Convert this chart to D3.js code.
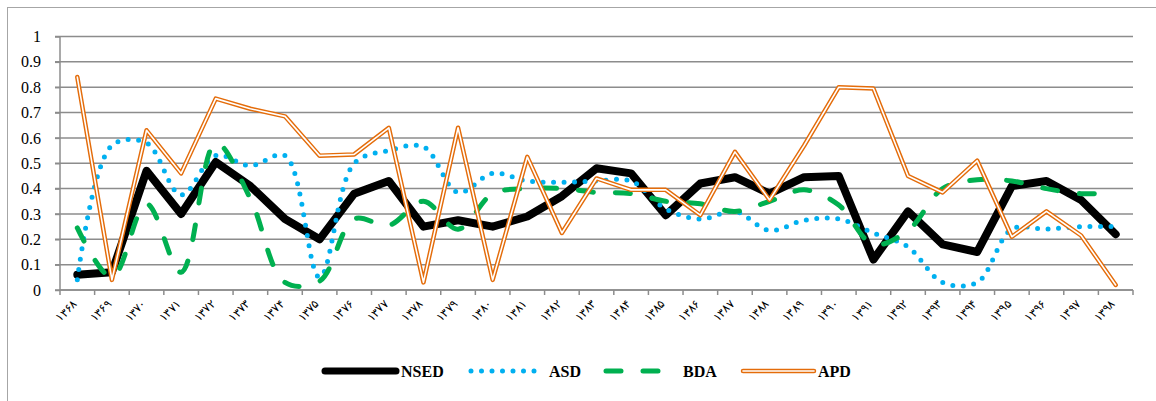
<!DOCTYPE html>
<html>
<head>
<meta charset="utf-8">
<script src="https://cdn.jsdelivr.net/npm/d3@7"></script>
<style>
  body { margin: 0; background: #fff; }
  svg { display: block; }
</style>
</head>
<body>
<svg id="chart"></svg>
<script>
// years 1368..1398 (solar hijri), shown with persian digits
const years = [1368, 1369, 1370, 1371, 1372, 1373, 1374, 1375, 1376, 1377, 1378, 1379, 1380,
  1381, 1382, 1383, 1384, 1385, 1386, 1387, 1388, 1389, 1390, 1391, 1392, 1393, 1394, 1395,
  1396, 1397, 1398];
const yTicks = [0, 0.1, 0.2, 0.3, 0.4, 0.5, 0.6, 0.7, 0.8, 0.9, 1];

const NSED = [0.06, 0.07, 0.47, 0.30, 0.505, 0.41, 0.28, 0.20, 0.38, 0.43, 0.25, 0.275, 0.25,
  0.29, 0.37, 0.48, 0.46, 0.295, 0.42, 0.445, 0.38, 0.445, 0.45, 0.12, 0.31, 0.18, 0.15, 0.41,
  0.43, 0.355, 0.22];
const ASD = [0.04, 0.57, 0.58, 0.375, 0.53, 0.49, 0.53, 0.05, 0.50, 0.55, 0.565, 0.385, 0.46,
  0.43, 0.425, 0.43, 0.43, 0.32, 0.28, 0.31, 0.235, 0.275, 0.28, 0.225, 0.17, 0.03, 0.03, 0.24,
  0.24, 0.25, 0.25];
const BDA = [0.245, 0.05, 0.34, 0.07, 0.58, 0.36, 0.03, 0.035, 0.28, 0.255, 0.35, 0.24, 0.38,
  0.40, 0.40, 0.385, 0.38, 0.35, 0.34, 0.31, 0.35, 0.395, 0.335, 0.18, 0.235, 0.40, 0.435, 0.43,
  0.40, 0.38, 0.385];
const APD = [0.84, 0.04, 0.63, 0.46, 0.755, 0.715, 0.685, 0.53, 0.535, 0.64, 0.03, 0.64, 0.04,
  0.525, 0.225, 0.44, 0.395, 0.395, 0.295, 0.545, 0.355, 0.57, 0.80, 0.795, 0.45, 0.385, 0.51,
  0.21, 0.31, 0.215, 0.02];

const fa = n => String(n).replace(/\d/g, d => "۰۱۲۳۴۵۶۷۸۹"[d]);

const width = 1156, height = 401;
const plotL = 60, plotR = 1133, plotT = 36.5, plotB = 290;
const grid = "#8c8c8c";

const svg = d3.select("#chart").attr("width", width).attr("height", height);

// outer frame of the chart area
svg.append("rect")
  .attr("x", 7.5).attr("y", 7.5)
  .attr("width", width + 10).attr("height", height + 10)
  .attr("fill", "#fff").attr("stroke", "#a6a6a6");

const x = d3.scaleBand().domain(years).range([plotL, plotR]);
const y = d3.scaleLinear().domain([0, 1]).range([plotB, plotT]);

// horizontal gridlines
svg.append("g")
  .selectAll("line")
  .data(yTicks)
  .join("line")
  .attr("x1", plotL - 5).attr("x2", plotR)
  .attr("y1", d => y(d)).attr("y2", d => y(d))
  .attr("stroke", grid).attr("stroke-width", 1.5);

// y axis
const yAxis = svg.append("g")
  .attr("transform", `translate(${plotL},0)`)
  .call(d3.axisLeft(y).tickValues(yTicks).tickSize(5).tickPadding(14).tickFormat(d3.format("~g")));
yAxis.selectAll("line,path").attr("stroke", grid).attr("stroke-width", 1.5);
yAxis.select(".domain").attr("d", `M0,${plotB}V${plotT}`);
yAxis.selectAll("text")
  .attr("font-family", "'Liberation Serif', 'Times New Roman', serif")
  .attr("font-size", 16).attr("fill", "#000");

// x axis: ticks at category boundaries
const xg = svg.append("g");
xg.append("line")
  .attr("x1", plotL).attr("x2", plotR)
  .attr("y1", plotB).attr("y2", plotB)
  .attr("stroke", grid).attr("stroke-width", 1.5);
xg.selectAll(".tk")
  .data(years.map(d => x(d)).concat([plotR]))
  .join("line")
  .attr("class", "tk")
  .attr("x1", d => d).attr("x2", d => d)
  .attr("y1", plotB).attr("y2", plotB + 5)
  .attr("stroke", grid).attr("stroke-width", 1.5);
xg.selectAll("text")
  .data(years)
  .join("text")
  .attr("transform", d => `translate(${x(d) + x.bandwidth() / 2},${plotB + 15}) rotate(-45)`)
  .attr("text-anchor", "end")
  .attr("font-family", "'DejaVu Sans', sans-serif")
  .attr("font-weight", 200)
  .attr("font-size", 11.5)
  .attr("fill", "#000")
  .text(d => fa(d));

const cx = (d, i) => x(years[i]) + x.bandwidth() / 2;
const straight = d3.line().x(cx).y(d => y(d));
const smooth = d3.line().x(cx).y(d => y(d)).curve(d3.curveCatmullRom);

const series = [
  { name: "NSED", values: NSED, gen: straight, stroke: "#000", w: 8, dash: null },
  { name: "ASD", values: ASD, gen: smooth, stroke: "#00b0f0", w: 5, dash: "0 10.5" },
  { name: "BDA", values: BDA, gen: smooth, stroke: "#00b050", w: 5, dash: "15 22" },
  { name: "APD", values: APD, gen: straight, stroke: "#e46c0a", w: 4.5, dash: null, double: true }
];

const plot = svg.append("g").attr("fill", "none")
  .attr("stroke-linecap", "round").attr("stroke-linejoin", "round");

series.forEach(s => {
  plot.append("path")
    .attr("d", s.gen(s.values))
    .attr("stroke", s.stroke)
    .attr("stroke-width", s.w)
    .attr("stroke-dasharray", s.dash);
  if (s.double) {
    plot.append("path")
      .attr("d", s.gen(s.values))
      .attr("stroke", "#fff")
      .attr("stroke-width", 1.6);
  }
});

// legend
const legendX = [325, 471, 606, 743];
const legendTextX = [401, 549, 683, 818];
const ly = 371;
const lg = svg.append("g").attr("stroke-linecap", "round");
series.forEach((s, i) => {
  lg.append("line")
    .attr("x1", legendX[i]).attr("x2", legendX[i] + 71)
    .attr("y1", ly).attr("y2", ly)
    .attr("stroke", s.stroke).attr("stroke-width", s.name === "NSED" ? 7 : s.w)
    .attr("stroke-dasharray", s.dash);
  if (s.double) {
    lg.append("line")
      .attr("x1", legendX[i]).attr("x2", legendX[i] + 71)
      .attr("y1", ly).attr("y2", ly)
      .attr("stroke", "#fff").attr("stroke-width", 1.6);
  }
  lg.append("text")
    .attr("x", legendTextX[i]).attr("y", ly + 5.5)
    .attr("font-family", "'Liberation Serif', 'Times New Roman', serif")
    .attr("font-weight", "bold").attr("font-size", 16)
    .attr("fill", "#000")
    .text(s.name);
});
</script>
</body>
</html>
